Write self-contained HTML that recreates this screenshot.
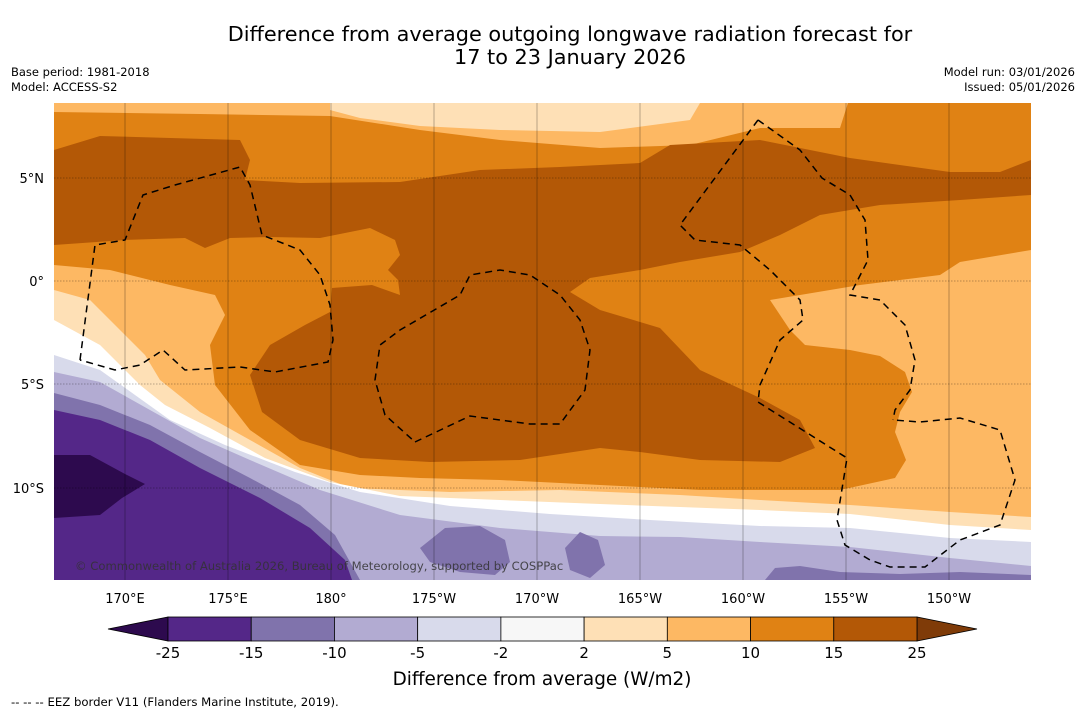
<!DOCTYPE html>
<html><head><meta charset="utf-8"><style>
body{margin:0;background:#fff;width:1085px;height:713px;overflow:hidden;font-family:"DejaVu Sans",sans-serif}
svg{position:absolute;left:0;top:0;font-family:"DejaVu Sans",sans-serif}
</style></head><body>
<svg width="1085" height="713" viewBox="0 0 1085 713">
<text x="570" y="41" font-size="20.8" text-anchor="middle">Difference from average outgoing longwave radiation forecast for</text>
<text x="570" y="64" font-size="20.8" text-anchor="middle">17 to 23 January 2026</text>
<text x="11" y="76" font-size="11.5">Base period: 1981-2018</text>
<text x="11" y="91" font-size="11.5">Model: ACCESS-S2</text>
<text x="1075" y="76" font-size="11.5" text-anchor="end">Model run: 03/01/2026</text>
<text x="1075" y="91" font-size="11.5" text-anchor="end">Issued: 05/01/2026</text>
<defs><clipPath id="mc"><rect x="54" y="103" width="977" height="477"/></clipPath></defs>
<g clip-path="url(#mc)">
<rect x="54" y="103" width="977" height="477" fill="#fdb863"/>
<path fill="#fee0b6" d="M330,103 L700,103 L690,120 L600,132 L500,130 L420,126 L360,118 L330,110Z"/>
<path fill="#e08214" d="M54,112 L200,114 L330,116 L420,130 L500,140 L600,148 L690,145 L760,128 L840,128 L848,103 L1031,103 L1031,250 L960,262 L940,275 L860,285 L800,295 L770,300 L790,330 L805,345 L850,350 L880,356 L905,372 L912,392 L900,412 L895,432 L906,460 L895,478 L840,490 L700,490 L600,485 L500,480 L420,478 L360,475 L300,465 L250,430 L215,385 L210,345 L225,315 L215,295 L170,285 L110,270 L54,265Z"/>
<path fill="#b35806" d="M54,150 L100,136 L240,140 L250,160 L245,180 L300,183 L400,182 L480,170 L560,167 L640,163 L670,145 L760,140 L850,158 L950,172 L1000,172 L1031,160 L1031,195 L960,200 L880,205 L820,215 L780,235 L740,252 L680,262 L640,270 L590,278 L570,292 L600,310 L660,328 L700,370 L760,398 L800,420 L815,448 L780,462 L700,460 L640,452 L600,448 L520,460 L430,462 L360,458 L300,440 L262,412 L250,375 L270,345 L305,325 L330,312 L332,288 L345,287 L372,285 L400,295 L398,280 L388,270 L400,255 L395,240 L370,228 L320,238 L270,237 L230,238 L205,248 L185,238 L125,240 L54,245Z"/>
<path fill="#fee0b6" d="M54,290 L90,300 L120,330 L145,355 L160,380 L200,412 L250,440 L300,468 L350,488 L450,492 L560,490 L680,495 L760,500 L850,505 L950,512 L1031,517 L1031,580 L54,580Z"/>
<path fill="#ffffff" d="M54,320 L100,345 L140,385 L165,405 L210,428 L265,458 L330,482 L400,496 L500,500 L600,504 L680,507 L760,510 L850,514 L950,525 L1031,530 L1031,580 L54,580Z"/>
<path fill="#d8daeb" d="M54,355 L100,370 L135,395 L170,420 L225,445 L295,472 L360,492 L450,506 L550,514 L650,520 L760,526 L850,528 L950,538 L1031,542 L1031,580 L54,580Z"/>
<path fill="#b2abd2" d="M54,372 L100,382 L150,410 L200,438 L250,460 L320,490 L400,515 L500,528 L600,536 L680,537 L760,542 L850,547 L950,558 L1031,566 L1031,580 L54,580Z"/>
<path fill="#8073ac" d="M54,393 L100,405 L150,425 L200,452 L250,478 L300,505 L335,535 L360,580 L54,580Z"/>
<path fill="#8073ac" d="M420,548 L445,528 L480,526 L505,540 L510,562 L495,575 L460,572 L430,562Z"/>
<path fill="#8073ac" d="M565,548 L580,532 L598,540 L605,565 L590,578 L570,570Z"/>
<path fill="#8073ac" d="M765,580 L775,568 L800,566 L840,572 L900,574 L960,572 L1031,575 L1031,580Z"/>
<path fill="#542788" d="M54,410 L100,420 L150,440 L200,468 L260,498 L310,528 L345,560 L352,580 L54,580Z"/>
<path fill="#2d0a4e" d="M54,455 L90,455 L125,474 L145,484 L122,498 L100,515 L54,518Z"/>
<g stroke="#000" stroke-opacity="0.55" stroke-width="0.5">
<path d="M125,103V580M228,103V580M331,103V580M434,103V580M537,103V580M640,103V580M743,103V580M846,103V580M949,103V580"/>
<path d="M54,178H1031M54,281H1031M54,384H1031M54,488H1031" stroke-dasharray="1.5 1.5"/>
</g>
<g fill="none" stroke="#000" stroke-width="1.5" stroke-dasharray="7 5">
<path d="M80,360 L95,245 L125,240 L143,195 L175,185 L240,167 L250,185 L262,235 L300,250 L320,275 L330,305 L333,340 L328,362 L275,372 L240,367 L185,370 L163,350 L140,365 L115,370 L80,360"/>
<path d="M415,442 L470,416 L530,424 L560,424 L585,390 L590,350 L580,320 L560,295 L530,275 L500,270 L470,275 L460,295 L400,330 L380,345 L375,380 L385,415 L415,442"/>
<path d="M758,120 L680,225 L695,240 L740,245 L770,270 L800,300 L803,320 L780,340 L760,385 L758,402 L847,458 L837,520 L845,545 L870,560 L890,567 L925,567 L960,540 L1000,525 L1015,480 L1000,430 L960,418 L920,422 L893,420"/>
<path d="M758,120 L800,150 L822,178 L850,195 L865,220 L868,260 L850,295 L880,300 L905,325 L915,360 L910,390 L895,410 L893,420"/>
</g>
<text x="75" y="570" font-size="11.6" fill="#333" fill-opacity="0.85">© Commonwealth of Australia 2026, Bureau of Meteorology, supported by COSPPac</text>
</g>
<g font-size="13" text-anchor="end">
<text x="44" y="183">5°N</text><text x="44" y="286">0°</text><text x="44" y="389">5°S</text><text x="44" y="493">10°S</text>
</g>
<g id="lonlabels" font-size="13" text-anchor="middle"></g>
<g id="cbar"></g>
<text x="542" y="685" font-size="18.4" text-anchor="middle">Difference from average (W/m2)</text>
<text x="11" y="706" font-size="11.7">--  --  -- EEZ border V11 (Flanders Marine Institute, 2019).</text>
</svg>
<script>
const lonLabels=["170°E","175°E","180°","175°W","170°W","165°W","160°W","155°W","150°W"];
const binColors=["#542788","#8073ac","#b2abd2","#d8daeb","#f7f7f7","#fee0b6","#fdb863","#e08214","#b35806"];
const tickLabels=["-25","-15","-10","-5","-2","2","5","10","15","25"];
const underColor="#2d0a4e", overColor="#7f3b08";
const NS="http://www.w3.org/2000/svg";
const lg=document.getElementById('lonlabels');
lonLabels.forEach((t,i)=>{const e=document.createElementNS(NS,'text');e.setAttribute('x',125+i*103);e.setAttribute('y',603);e.textContent=t;


lg.appendChild(e);});
const cb=document.getElementById('cbar');
const x0=168,x1=917,y0=617,h=24,w=(x1-x0)/binColors.length;
function mk(tag,a){const e=document.createElementNS(NS,tag);for(const k in a)e.setAttribute(k,a[k]);cb.appendChild(e);return e;}
let p=mk('polygon',{points:`108,${y0+h/2} ${x0},${y0} ${x0},${y0+h}`,fill:underColor,stroke:'#000','stroke-width':0.8});


p=mk('polygon',{points:`977,${y0+h/2} ${x1},${y0} ${x1},${y0+h}`,fill:overColor,stroke:'#000','stroke-width':0.8});


binColors.forEach((c,i)=>{const r=mk('rect',{x:x0+i*w,y:y0,width:w,height:h,fill:c,stroke:'#000','stroke-width':0.8});

});
tickLabels.forEach((t,i)=>{const e=mk('text',{x:x0+i*w,y:658,'font-size':15,'text-anchor':'middle'});e.textContent=t;

});
</script>
</body></html>
